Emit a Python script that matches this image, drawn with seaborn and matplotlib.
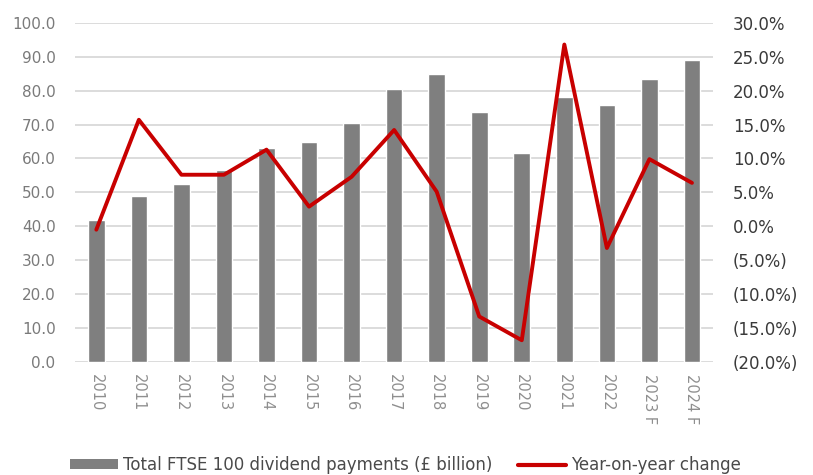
import numpy as np
import pandas as pd
import matplotlib
matplotlib.use("Agg")
import matplotlib.pyplot as plt
import seaborn as sns
from matplotlib.ticker import FuncFormatter
from matplotlib.patches import Patch
from matplotlib.lines import Line2D

# data
years = ["2010", "2011", "2012", "2013", "2014", "2015", "2016", "2017",
         "2018", "2019", "2020", "2021", "2022", "2023 F", "2024 F"]
dividends = [42.0, 48.8, 52.4, 56.6, 63.0, 65.0, 70.4, 80.4,
             85.0, 73.8, 61.5, 78.0, 75.7, 83.5, 88.9]
yoy_change = [-0.5, 15.7, 7.6, 7.6, 11.3, 2.9, 7.3, 14.2,
              5.1, -13.3, -16.8, 26.8, -3.2, 9.9, 6.4]

df = pd.DataFrame({"year": years, "div": dividends, "yoy": yoy_change})

sns.set_theme(style="white")
plt.rcParams["font.family"] = ["DejaVu Sans"]

fig = plt.figure(figsize=(8.13, 4.75), dpi=100)
ax = fig.add_axes([0.0923, 0.238, 0.785, 0.714])

sns.barplot(data=df, x="year", y="div", color="#7f7f7f", saturation=1,
            width=0.39, ax=ax, zorder=2)
ax.set_ylim(0, 100)
ax.set_yticks(np.arange(0, 101, 10))
ax.yaxis.set_major_formatter(FuncFormatter(lambda v, p: f"{v:.1f}"))
ax.set_xlabel("")
ax.set_ylabel("")
ax.set_xlim(-0.5, len(years) - 0.5)
for s in ax.spines.values():
    s.set_visible(False)
ax.tick_params(axis="y", length=0, labelsize=11, labelcolor="#7a7a7a", pad=14)
ax.tick_params(axis="x", length=0, labelsize=10.5, labelcolor="#8f8f8f",
               rotation=-90, pad=9)
ax.set_axisbelow(True)
ax.yaxis.grid(True, color="#d9d9d9", linewidth=1.3)

ax2 = ax.twinx()
sns.lineplot(data=df, x="year", y="yoy", color="#c80000", linewidth=2.8,
             sort=False, ax=ax2, zorder=3)
ax2.set_ylim(-20, 30)
ax2.set_yticks(np.arange(-20, 31, 5))


def pct(v, p):
    if v < 0:
        return f"({abs(v):.1f}%)"
    return f"{v:.1f}%"


ax2.yaxis.set_major_formatter(FuncFormatter(pct))
ax2.set_ylabel("")
ax2.set_xlabel("")
for s in ax2.spines.values():
    s.set_visible(False)
ax2.tick_params(axis="y", length=0, labelsize=12, labelcolor="#3a3a3a", pad=14)
ax2.grid(False)

handles = [Patch(facecolor="#7f7f7f", edgecolor="none"),
           Line2D([0], [0], color="#c80000", linewidth=3)]
labels = ["Total FTSE 100 dividend payments (£ billion)", "Year-on-year change"]
fig.legend(handles, labels, loc="center left", bbox_to_anchor=(0.086, 0.021),
           ncol=2, frameon=False, fontsize=12, handlelength=2.9,
           handleheight=0.5, columnspacing=1.5, handletextpad=0.3,
           borderpad=0, borderaxespad=0, labelcolor="#4a4a4a")

fig.savefig("out.png", dpi=100)
